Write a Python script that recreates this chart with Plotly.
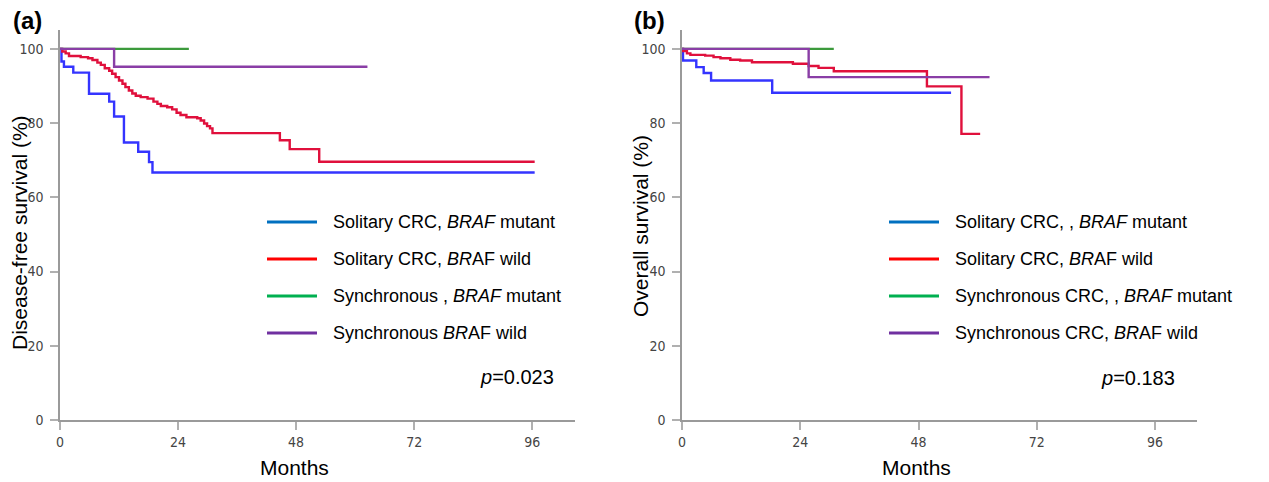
import plotly.graph_objects as go

W, H = 1269, 482
OFF = 8  # page body margin offset of the rendered figure

# ---------------- data ----------------
# Panel (a) Disease-free survival
a_blue_t = [0, 0.3, 0.8, 2.7, 5.9, 10.0, 11.0, 13.0, 15.9, 18.1, 18.8, 96.5]
a_blue_s = [100, 96.6, 95.2, 93.6, 87.9, 85.8, 81.8, 74.8, 72.3, 69.5, 66.7, 66.7]
a_red_t = [0, 0.47, 1.15, 1.83, 4.2, 5.7, 6.6, 7.6, 8.3, 9.1, 10.0, 10.6, 11.3, 12.0,
           12.7, 13.3, 14.0, 14.7, 15.4, 16.4, 17.8, 19.0, 19.8, 20.5, 21.8, 22.8,
           23.7, 24.5, 25.7, 27.9, 28.6, 29.3, 29.9, 30.5, 31.0, 44.7, 46.7, 52.7, 96.5]
a_red_s = [100, 99.3, 98.8, 98.1, 97.8, 97.5, 97.0, 96.3, 95.7, 94.8, 94.1, 93.3, 92.4, 91.5,
           90.6, 89.7, 88.8, 88.0, 87.4, 87.0, 86.6, 85.8, 85.2, 84.6, 84.3, 83.7,
           82.8, 82.2, 81.6, 81.3, 80.7, 79.9, 79.2, 78.6, 77.3, 75.4, 73.0, 69.6, 69.6]
a_green_t = [0, 26.2]
a_green_s = [100, 100]
a_purple_t = [0, 11.0, 62.5]
a_purple_s = [100, 95.2, 95.2]

# Panel (b) Overall survival
b_blue_t = [0, 0.2, 2.9, 4.4, 5.9, 18.3, 54.6]
b_blue_s = [100, 96.9, 95.1, 93.5, 91.5, 88.2, 88.2]
b_red_t = [0, 0.2, 1.0, 1.7, 4.7, 6.4, 7.8, 9.8, 11.8, 14.2, 22.5, 25.7, 27.7, 30.8, 49.7, 56.7, 60.5]
b_red_s = [100, 99.4, 98.8, 98.4, 98.2, 97.8, 97.5, 97.1, 96.9, 96.4, 96.0, 95.4, 94.9, 94.0, 89.9, 77.1, 77.1]
b_green_t = [0, 30.8]
b_green_s = [100, 100]
b_purple_t = [0, 25.7, 62.4]
b_purple_s = [100, 92.4, 92.4]

x_ticks = [0, 24, 48, 72, 96]
y_ticks = [0, 20, 40, 60, 80, 100]

legend_a = ["Solitary CRC, <i>BRAF</i> mutant",
            "Solitary CRC, <i>BR</i>AF wild",
            "Synchronous , <i>BRAF</i> mutant",
            "Synchronous <i>BR</i>AF wild"]
legend_b = ["Solitary CRC, , <i>BRAF</i> mutant",
            "Solitary CRC, <i>BR</i>AF wild",
            "Synchronous CRC, , <i>BRAF</i> mutant",
            "Synchronous CRC, <i>BR</i>AF wild"]
p_a = "<i>p</i>=0.023"
p_b = "<i>p</i>=0.183"

curve_colors = ["#3434ff", "#e0103c", "#3c9a3c", "#8a3ea6"]
legend_colors = ["#0070c0", "#ff0000", "#00b050", "#7030a0"]

# ---------------- figure ----------------
fig = go.Figure()

panel_a = [(a_blue_t, a_blue_s), (a_red_t, a_red_s), (a_green_t, a_green_s), (a_purple_t, a_purple_s)]
panel_b = [(b_blue_t, b_blue_s), (b_red_t, b_red_s), (b_green_t, b_green_s), (b_purple_t, b_purple_s)]

for (t, s), c, name in zip(panel_a, curve_colors, legend_a):
    fig.add_trace(go.Scatter(x=t, y=s, mode="lines", line=dict(color=c, width=2.4, shape="hv"),
                             name=name, showlegend=False, xaxis="x", yaxis="y"))
for (t, s), c, name in zip(panel_b, curve_colors, legend_b):
    fig.add_trace(go.Scatter(x=t, y=s, mode="lines", line=dict(color=c, width=2.4, shape="hv"),
                             name=name, showlegend=False, xaxis="x2", yaxis="y2"))

def px(x):
    return (x - OFF) / W

def py(y):
    return 1 - (y - OFF) / H

ydom = [py(420), py(30)]
tickfont = dict(family="Liberation Sans Narrow, DejaVu Sans Condensed, sans-serif", size=14, color="#444")
axis_common = dict(showgrid=False, zeroline=False, showline=True, linecolor="#9a9a9a", linewidth=1.5,
                   ticks="outside", ticklen=8, tickcolor="#b0b0b0", tickwidth=1.5, tickfont=tickfont,
                   automargin=False)

fig.update_layout(
    width=W, height=H, autosize=False,
    margin=dict(l=0, r=0, t=0, b=0, pad=0, autoexpand=False),
    paper_bgcolor="white", plot_bgcolor="white",
    showlegend=False,
    xaxis=dict(domain=[px(60), px(575)], range=[0, 104.7], tickvals=x_ticks, anchor="y", **axis_common),
    yaxis=dict(domain=ydom, range=[0, 105.1], tickvals=y_ticks, anchor="x", ticklabelstandoff=4, **axis_common),
    xaxis2=dict(domain=[px(682), px(1197)], range=[0, 104.5], tickvals=x_ticks, anchor="y2", **axis_common),
    yaxis2=dict(domain=ydom, range=[0, 105.1], tickvals=y_ticks, anchor="x2", ticklabelstandoff=4, **axis_common),
)

annotations = []
shapes = []
font_main = "Liberation Sans, Arial, sans-serif"

def ann(x, y, text, size, xanchor="center", **kw):
    d = dict(x=px(x), y=py(y), xref="paper", yref="paper", text=text, showarrow=False,
             xanchor=xanchor, yanchor="middle",
             font=dict(family=font_main, size=size, color="black"))
    d.update(kw)
    annotations.append(d)

# panel labels
ann(28, 20, "<b>(a)</b>", 24)
ann(650, 20, "<b>(b)</b>", 24)
# axis titles
ann(19, 233, "Disease-free survival (%)", 21, textangle=-90)
ann(641, 226, "Overall survival (%)", 21, textangle=-90)
ann(294, 467, "Months", 21)
ann(916, 467, "Months", 21)

# legends
rows = [222, 259, 296, 333]
for yrow, txt, col in zip(rows, legend_a, legend_colors):
    shapes.append(dict(type="line", xref="paper", yref="paper", x0=px(267), x1=px(317),
                       y0=py(yrow), y1=py(yrow), line=dict(color=col, width=3)))
    ann(331, yrow, txt, 18, xanchor="left")
for yrow, txt, col in zip(rows, legend_b, legend_colors):
    shapes.append(dict(type="line", xref="paper", yref="paper", x0=px(889), x1=px(939),
                       y0=py(yrow), y1=py(yrow), line=dict(color=col, width=3)))
    ann(953, yrow, txt, 18, xanchor="left")

ann(556, 377, p_a, 20, xanchor="right")
ann(1177, 378, p_b, 20, xanchor="right")

fig.update_layout(annotations=annotations, shapes=shapes)
fig.write_html("out.html")
